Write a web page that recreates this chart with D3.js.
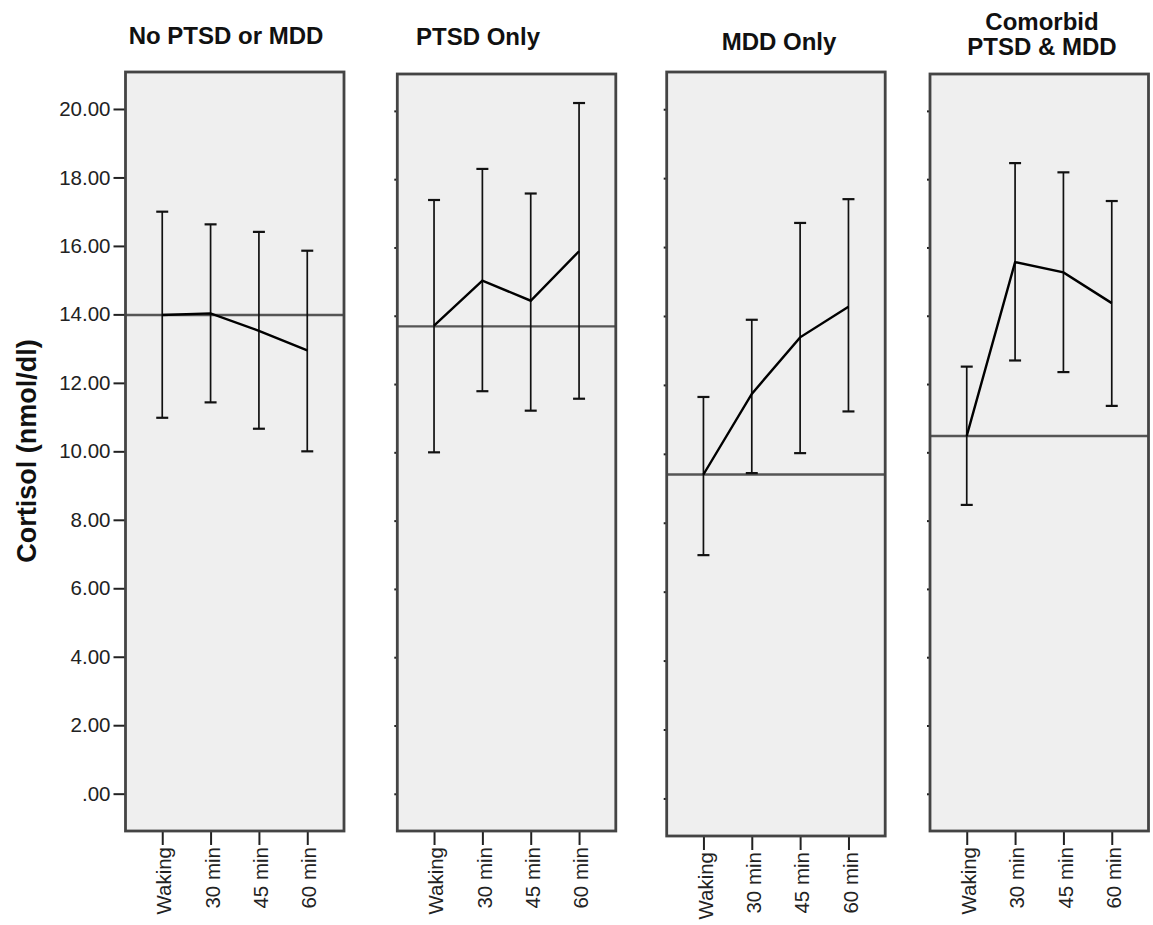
<!DOCTYPE html>
<html>
<head>
<meta charset="utf-8">
<script src="https://cdn.jsdelivr.net/npm/d3@7/dist/d3.min.js"></script>
<style>
  body { margin: 0; background: #fff; }
  text { font-family: "Liberation Sans", Arial, sans-serif; }
</style>
</head>
<body>
<div id="chart"></div>
<script>
// Panel groups and the four sampling times
const groups = [["No PTSD or MDD"], ["PTSD Only"], ["MDD Only"], ["Comorbid", "PTSD & MDD"]];
const timepoints = ["Waking", "30 min", "45 min", "60 min"];

// Mean cortisol per group (rows) and time (columns)
const means = [
  [13.98, 14.03, 13.52, 12.95],
  [13.71, 15.03, 14.44, 15.89],
  [9.40, 11.74, 13.38, 14.27],
  [10.48, 15.57, 15.27, 14.37]
];
// Error bar ends
const upper = [
  [17.00, 16.63, 16.41, 15.86],
  [17.39, 18.30, 17.58, 20.23],
  [11.65, 13.89, 16.70, 17.39],
  [12.51, 18.47, 18.20, 17.36]
];
const lower = [
  [10.98, 11.43, 10.66, 10.00],
  [10.00, 11.79, 11.22, 11.57],
  [7.06, 9.44, 10.02, 11.23],
  [8.46, 12.69, 12.35, 11.36]
];
// Horizontal reference line (waking level) per group
const baseline = [13.98, 13.69, 9.40, 10.48];
const yTicks = [0, 2, 4, 6, 8, 10, 12, 14, 16, 18, 20];

// Layout of the panels (pixels)
const WIDTH = 1153, HEIGHT = 925;
const panelLeft = [125.5, 397.3, 666.7, 930];
const panelTop = [72, 74, 72, 74];
const panelBottom = [831, 831, 836, 831];
const PANEL_W = 218.5;
const titleX = [226, 478, 779, 1042];
const titleY = [43.5, 44.5, 49.5, 30];

const svg = d3.select("#chart").append("svg")
  .attr("width", WIDTH)
  .attr("height", HEIGHT);

groups.forEach((title, i) => {
  const x = d3.scalePoint().domain(timepoints)
    .range([panelLeft[i], panelLeft[i] + PANEL_W]).padding(0.76);
  const y = d3.scaleLinear().domain([-1.09, 21.08])
    .range([panelBottom[i], panelTop[i]]);

  const g = svg.append("g");

  // panel background
  g.append("rect")
    .attr("x", panelLeft[i]).attr("y", panelTop[i])
    .attr("width", PANEL_W).attr("height", panelBottom[i] - panelTop[i])
    .attr("fill", "#efefef");

  // y axis: labelled only on first panel
  const yAxis = g.append("g")
    .attr("transform", `translate(${panelLeft[i]},0)`)
    .call(d3.axisLeft(y).tickValues(yTicks)
      .tickSize(i === 0 ? 12 : 3).tickPadding(3)
      .tickFormat(d => i === 0 ? (d === 0 ? ".00" : d3.format(".2f")(d)) : ""));
  yAxis.select(".domain").remove();
  yAxis.selectAll("line").attr("stroke", "#222").attr("stroke-width", 2);
  yAxis.selectAll("text")
    .attr("font-size", 20.5).attr("fill", "#222")
    .style("font-family", "'Liberation Sans', Arial, sans-serif");

  // x axis with rotated labels
  const xAxis = g.append("g")
    .attr("transform", `translate(0,${panelBottom[i]})`)
    .call(d3.axisBottom(x).tickSize(14));
  xAxis.select(".domain").remove();
  xAxis.selectAll("line").attr("stroke", "#222").attr("stroke-width", 2);
  xAxis.selectAll("text")
    .attr("font-size", 20.5).attr("fill", "#222")
    .style("font-family", "'Liberation Sans', Arial, sans-serif")
    .attr("transform", "rotate(-90)")
    .attr("text-anchor", "end")
    .attr("x", -16).attr("y", 0).attr("dy", "0.42em");

  // reference line
  g.append("line")
    .attr("x1", panelLeft[i]).attr("x2", panelLeft[i] + PANEL_W)
    .attr("y1", y(baseline[i])).attr("y2", y(baseline[i]))
    .attr("stroke", "#555").attr("stroke-width", 2.4);

  // error bars
  const bars = g.selectAll(".bar").data(timepoints).enter().append("g");
  bars.append("line")
    .attr("x1", d => x(d)).attr("x2", d => x(d))
    .attr("y1", (d, j) => y(upper[i][j])).attr("y2", (d, j) => y(lower[i][j]))
    .attr("stroke", "#111").attr("stroke-width", 1.7);
  [upper, lower].forEach(arr => {
    bars.append("line")
      .attr("x1", d => x(d) - 6).attr("x2", d => x(d) + 6)
      .attr("y1", (d, j) => y(arr[i][j])).attr("y2", (d, j) => y(arr[i][j]))
      .attr("stroke", "#111").attr("stroke-width", 2.2);
  });

  // mean line
  const line = d3.line()
    .x((d, j) => x(timepoints[j]))
    .y(d => y(d));
  g.append("path")
    .datum(means[i])
    .attr("d", line)
    .attr("fill", "none")
    .attr("stroke", "#000")
    .attr("stroke-width", 2.4);

  // frame
  g.append("rect")
    .attr("x", panelLeft[i]).attr("y", panelTop[i])
    .attr("width", PANEL_W).attr("height", panelBottom[i] - panelTop[i])
    .attr("fill", "none")
    .attr("stroke", "#444").attr("stroke-width", 2.8);

  // panel title
  const t = svg.append("text")
    .attr("x", titleX[i]).attr("y", titleY[i])
    .attr("text-anchor", "middle")
    .attr("font-size", 24).attr("font-weight", "bold").attr("fill", "#111");
  title.forEach((s, k) => {
    t.append("tspan").attr("x", titleX[i]).attr("dy", k === 0 ? 0 : 25).text(s);
  });
});

// y axis title
svg.append("text")
  .attr("transform", "translate(36,451) rotate(-90)")
  .attr("text-anchor", "middle")
  .attr("font-size", 27).attr("font-weight", "bold").attr("fill", "#111")
  .text("Cortisol (nmol/dl)");
</script>
</body>
</html>
